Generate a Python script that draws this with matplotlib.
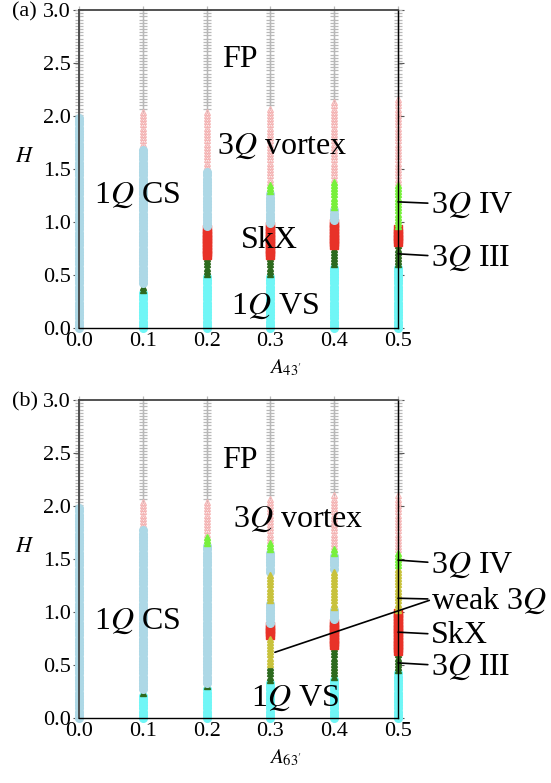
import numpy as np
import matplotlib
matplotlib.use('Agg')
import matplotlib.pyplot as plt

plt.rcParams['font.family'] = ['Liberation Serif', 'DejaVu Serif']
plt.rcParams['mathtext.fontset'] = 'stix'

# A values of the columns
A_vals = [0.0, 0.1, 0.2, 0.3, 0.4, 0.5]
# field grid on which the phases were computed
H_step = 0.03

# phase sequence (bottom -> top) and upper boundary of each phase, panel (a)
phases_a = [
    ['CS', 'FP'],
    ['VS', 'III', 'CS', 'vortex', 'FP'],
    ['VS', 'III', 'SkX', 'CS', 'vortex', 'FP'],
    ['VS', 'III', 'SkX', 'CS', 'IV', 'vortex', 'FP'],
    ['VS', 'III', 'SkX', 'CS', 'IV', 'vortex', 'FP'],
    ['VS', 'III', 'SkX', 'IV', 'vortex', 'FP'],
]
bounds_a = [
    [2.00, 3.0],
    [0.34, 0.41, 1.68, 2.06, 3.0],
    [0.48, 0.68, 0.93, 1.49, 2.06, 3.0],
    [0.50, 0.68, 0.97, 1.28, 1.37, 2.09, 3.0],
    [0.58, 0.75, 0.99, 1.12, 1.38, 2.15, 3.0],
    [0.58, 0.79, 0.93, 1.37, 2.18, 3.0],
]

# panel (b)
phases_b = [
    ['CS', 'FP'],
    ['VS', 'III', 'CS', 'vortex', 'FP'],
    ['VS', 'III', 'CS', 'IV', 'vortex', 'FP'],
    ['VS', 'III', 'weak', 'SkX', 'CS', 'weak', 'CS', 'IV', 'vortex', 'FP'],
    ['VS', 'III', 'SkX', 'CS', 'weak', 'CS', 'IV', 'vortex', 'FP'],
    ['VS', 'III', 'SkX', 'weak', 'IV', 'vortex', 'FP'],
]
bounds_b = [
    [2.00, 3.0],
    [0.23, 0.26, 1.78, 2.06, 3.0],
    [0.28, 0.31, 1.63, 1.72, 2.06, 3.0],
    [0.33, 0.48, 0.76, 0.88, 1.08, 1.37, 1.56, 1.66, 2.09, 3.0],
    [0.38, 0.66, 0.92, 1.04, 1.38, 1.54, 1.61, 2.11, 3.0],
    [0.42, 0.61, 0.99, 1.42, 1.57, 2.11, 3.0],
]

styles = {
    'FP':     dict(marker='+', color='#b8b8b8', ms=6, mew=0.9),
    'CS':     dict(marker='o', color='#add8e6', ms=5.5),
    'VS':     dict(marker='o', color='#70f6f6', ms=5.5),
    'vortex': dict(marker='^', color='#f4b4b4', mfc='none', ms=5, mew=0.8),
    'IV':     dict(marker='^', color='#78f03c', ms=5),
    'III':    dict(marker='^', color='#2d6a1e', ms=5),
    'SkX':    dict(marker='s', color='#e83228', ms=5.5),
    'weak':   dict(marker='^', color='#c8c23c', ms=5),
}

fig = plt.figure(figsize=(5.51, 7.83), dpi=100)
ax_a = fig.add_axes([0.1434, 0.5811, 0.579, 0.4061])
ax_b = fig.add_axes([0.1434, 0.0830, 0.579, 0.4061])


def draw_panel(ax, phases, bounds, xlabel, tag):
    H = np.arange(0, 3.0 + 1e-9, H_step)
    for A, ph, bd in zip(A_vals, phases, bounds):
        idx = np.searchsorted(bd, H, side='left')
        idx = np.clip(idx, 0, len(bd) - 1)
        # FP first so it stays behind the others
        order = sorted(set(ph), key=lambda p: 0 if p == 'FP' else 1)
        for p in order:
            sel = np.array([ph[i] == p for i in idx])
            if sel.any():
                ax.plot(np.full(sel.sum(), A), H[sel], ls='none',
                        clip_on=False, zorder=2, **styles[p])
    ax.set_xlim(0, 0.5)
    ax.set_ylim(0, 3.0)
    ax.set_xticks(A_vals)
    ax.set_xticklabels(['%.1f' % a for a in A_vals])
    ax.set_yticks(np.arange(0, 3.01, 0.5))
    ax.set_yticklabels(['%.1f' % h for h in np.arange(0, 3.01, 0.5)])
    ax.tick_params(axis='x', length=0, pad=3, labelsize=16)
    ax.tick_params(axis='y', direction='out', length=4, width=0.8,
                   color='#555555', pad=2, labelsize=16, right=True)
    for s in ['top', 'left']:
        ax.spines[s].set_color('#444444')
        ax.spines[s].set_linewidth(1.3)
    for s in ['bottom', 'right']:
        ax.spines[s].set_color('black')
        ax.spines[s].set_linewidth(1.0)
    ax.text(-0.17, 0.535, r'$H$', transform=ax.transAxes, fontsize=16,
            ha='center', va='center')
    ax.text(0.646, -0.126, xlabel, transform=ax.transAxes, fontsize=15,
            ha='center', va='center')
    ax.text(-0.21, 0.994, tag, transform=ax.transAxes, fontsize=16,
            ha='left', va='center')


draw_panel(ax_a, phases_a, bounds_a, r"$A_{43'}$", '(a)')
draw_panel(ax_b, phases_b, bounds_b, r"$A_{63'}$", '(b)')

fs = 23
# panel (a) labels
ax_a.text(0.252, 2.53, 'FP', fontsize=fs, ha='center', va='center')
ax_a.text(0.318, 1.71, r'3$Q$ vortex', fontsize=fs, ha='center', va='center')
ax_a.text(0.091, 1.25, r'1$Q$ CS', fontsize=fs, ha='center', va='center')
ax_a.text(0.299, 0.83, 'SkX', fontsize=fs, ha='center', va='center')
ax_a.text(0.307, 0.20, r'1$Q$ VS', fontsize=fs, ha='center', va='center')

arrow = dict(arrowstyle='-', color='black', lw=1.2, shrinkA=0, shrinkB=0)
ax_a.annotate(r'3$Q$ IV', xy=(0.5, 1.19), xytext=(0.551, 1.16), fontsize=fs,
              ha='left', va='center', arrowprops=arrow, annotation_clip=False)
ax_a.annotate(r'3$Q$ III', xy=(0.5, 0.70), xytext=(0.551, 0.66), fontsize=fs,
              ha='left', va='center', arrowprops=arrow, annotation_clip=False)

# panel (b) labels
ax_b.text(0.252, 2.43, 'FP', fontsize=fs, ha='center', va='center')
ax_b.text(0.343, 1.87, r'3$Q$ vortex', fontsize=fs, ha='center', va='center')
ax_b.text(0.091, 0.91, r'1$Q$ CS', fontsize=fs, ha='center', va='center')
ax_b.text(0.339, 0.19, r'1$Q$ VS', fontsize=fs, ha='center', va='center')

ax_b.annotate(r'3$Q$ IV', xy=(0.5, 1.49), xytext=(0.551, 1.44), fontsize=fs,
              ha='left', va='center', arrowprops=arrow, annotation_clip=False)
ax_b.annotate(r'weak 3$Q$', xy=(0.5, 1.13), xytext=(0.551, 1.11), fontsize=fs,
              ha='left', va='center', arrowprops=arrow, annotation_clip=False)
ax_b.annotate('', xy=(0.307, 0.62), xytext=(0.549, 1.11),
              arrowprops=arrow, annotation_clip=False)
ax_b.annotate('SkX', xy=(0.5, 0.81), xytext=(0.551, 0.78), fontsize=fs,
              ha='left', va='center', arrowprops=arrow, annotation_clip=False)
ax_b.annotate(r'3$Q$ III', xy=(0.5, 0.52), xytext=(0.551, 0.48), fontsize=fs,
              ha='left', va='center', arrowprops=arrow, annotation_clip=False)

fig.savefig('out.png', dpi=100)
